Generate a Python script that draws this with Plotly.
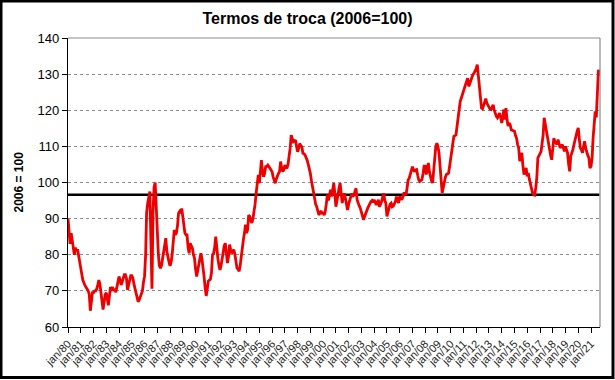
import pandas as pd
import plotly.graph_objects as go

# Monthly terms-of-trade index (2006=100), Jan/1980 onward
tt_1980s = [
    90, 87, 83, 86, 84, 81, 80, 82, 81, 81.5, 80, 78,                      # 1980
    76, 74.5, 73, 72, 71.5, 71, 70.5, 70, 69, 64.5, 67, 69.5,              # 1981
    69.5, 70, 70, 70.5, 71.5, 73, 72, 69.6, 67, 64.8, 67, 69,              # 1982
    69.5, 68, 66, 68.5, 71, 70.5, 71, 70, 70.5, 69.6, 71, 72.5,            # 1983
    74, 73, 71.6, 72.5, 73.5, 74.5, 74.5, 73.5, 70.3, 71.5, 73, 74.2,      # 1984
    74.2, 73.5, 72, 70.6, 69.5, 68, 67, 67.5, 68.5, 68.8, 70, 72.4,        # 1985
    74, 80, 91.6, 94.3, 96, 97.5, 84, 70.6, 92, 98.7, 100, 92,             # 1986
    85.5, 80, 77, 76.3, 77, 79, 81, 83, 84.6, 81, 79, 78,                  # 1987
    76.9, 78, 80, 82.8, 86.9, 85.5, 86, 88, 91.5, 92, 91.5, 92.8,          # 1988
    90, 87.8, 86, 85.5, 85.5, 82, 80.4, 83.2, 82.5, 81.8, 80, 79,          # 1989
]
tt_1990s = [
    76, 74, 75.5, 77.2, 79, 80.4, 79, 76.9, 74, 71, 68.6, 70.5,            # 1990
    72.7, 73, 73.2, 75, 80, 80.4, 82, 85, 81.4, 79, 77, 75.8,              # 1991
    77, 79, 81.4, 82.5, 83.2, 80, 77.7, 79.5, 82.8, 81.5, 80.4, 81,        # 1992
    81.4, 80, 78, 76.3, 76, 75.4, 77, 80, 82.8, 84.2, 86, 88.3,            # 1993
    86, 87, 91, 90.6, 89.5, 88.8, 90, 91.5, 94, 97, 99.5, 102.1,           # 1994
    99.8, 103, 106.2, 103, 101.6, 102.5, 104.4, 104.4, 104.8, 104.4, 104, 103.5,  # 1995
    103, 101.5, 100.5, 99.8, 101, 102.1, 102.5, 103, 105.8, 104, 103, 103.5,      # 1996
    104.8, 104.3, 103.9, 105, 106.7, 109.5, 113.1, 112, 111.3, 111.5, 111.8, 110, # 1997
    108.5, 109.5, 110.8, 110.2, 109.9, 108.1, 108, 107.6, 107, 106.2, 105, 104,   # 1998
    102.5, 100.5, 98.8, 96.5, 95.2, 94, 93.3, 92, 91, 91.5, 92.2, 91.5,          # 1999
]
tt_2000s = [
    91.5, 91, 92, 94, 96.6, 95, 97, 98, 96.1, 97.5, 99.8, 97,              # 2000
    93.3, 95, 97, 98.5, 99.8, 97, 94.3, 96, 97, 95.6, 94, 92.4,            # 2001
    94, 95.2, 96, 97, 96.1, 96.5, 97.5, 98.4, 95.2, 94, 93.5, 92.9,        # 2002
    92, 91, 89.7, 90.5, 91.5, 92, 92.9, 93.5, 94.3, 94.7, 95, 94.5,        # 2003
    95.2, 94.5, 93.8, 94.5, 95.2, 93.3, 94, 94.7, 96, 97, 95, 94.3,        # 2004
    90.6, 92, 93.3, 94, 94.3, 93.3, 93.5, 94, 94.7, 96.1, 95, 94.3,        # 2005
    96.1, 95.5, 95.2, 96, 97, 97, 96.6, 98.5, 100.7, 101.2, 102.5, 103.5,  # 2006
    104.4, 103.5, 103, 103.5, 103.6, 102, 100.7, 100.3, 100.5, 100.8, 102.5, 104.5,  # 2007
    104.5, 102.2, 103.5, 105.4, 103, 101.3, 100.5, 99.9, 104, 108.6, 110, 110.9,     # 2008
    110, 108.2, 105, 102.2, 97.1, 98.5, 100.3, 101.5, 102.2, 102.4, 102.6, 104.5,    # 2009
]
tt_2010s = [
    106.8, 108.5, 110.5, 112.8, 113, 113.2, 115.5, 117.9, 121.1, 122.5, 123.4, 124.5,  # 2010
    125.7, 126.5, 127.1, 128, 128.9, 126.6, 127.5, 128.5, 129.2, 129.9, 130.3, 130.8,  # 2011
    131.5, 132.6, 129.9, 126.2, 123, 120.6, 120.4, 121.5, 122.5, 123.2, 122, 121.5,    # 2012
    120.6, 120.3, 120.2, 120.8, 121.5, 120, 118.8, 118.3, 117.9, 118.5, 119.2, 118,    # 2013
    116.5, 118, 120.2, 117.4, 120.6, 117.5, 115.6, 116.5, 116, 114.6, 114.4, 114.2,    # 2014
    114.2, 113, 112.3, 110.5, 109.6, 105.9, 107, 108.2, 104.5, 102.2, 103.1, 104,      # 2015
    101.7, 102.6, 101, 99.4, 98, 97.1, 96.6, 96.5, 98.5, 101.3, 106.8, 107.7,          # 2016
    108, 108.6, 111, 113.2, 117.9, 116, 114.5, 113.2, 111, 108.6, 107.5, 106.3,        # 2017
    109, 112.3, 111.4, 111, 110.5, 111.9, 111, 109.6, 110, 110.5, 109.5, 108.6,        # 2018
    110, 109, 108.2, 105, 103.1, 107.3, 108, 109.1, 110.5, 111.4, 113, 114.2,          # 2019
]
tt_2020s = [
    115.1, 112, 109.6, 109, 108.2, 110, 111.4, 109.5, 108.2, 107.5, 106.8, 104,        # 2020
    104.5, 106.8, 112.3, 117, 119.7, 118, 124.8, 131.2, 129.4,                         # 2021
]
reference_level = 96.6      # horizontal black reference line
tick_years = list(range(1980, 2022))
tick_labels = ["jan/%02d" % (y % 100) for y in tick_years]

values = tt_1980s + tt_1990s + tt_2000s + tt_2010s + tt_2020s
dates = pd.date_range("1980-01-01", periods=len(values), freq="MS")
tick_dates = [pd.Timestamp(year=y, month=1, day=1) for y in tick_years]

W, H = 615, 380
ML, MR, MT, MB = 68, 15, 38, 53
PW, PH = W - ML - MR, H - MT - MB

fig = go.Figure()
fig.add_trace(go.Scatter(
    x=[dates[0], dates[-1]], y=[reference_level, reference_level],
    mode="lines", line=dict(color="black", width=2.5), hoverinfo="skip",
    showlegend=False))
fig.add_trace(go.Scatter(
    x=dates, y=values, mode="lines",
    line=dict(color="#ee0000", width=2.8), showlegend=False))

def px_x(p):
    return (p - ML) / PW

def px_y(p):
    return (H - MB - p) / PH

shapes = [
    # plot-area top and right borders (gray)
    dict(type="line", xref="paper", yref="paper", x0=0, x1=1, y0=1, y1=1,
         line=dict(color="#8c8c8c", width=1.2)),
    dict(type="line", xref="paper", yref="paper", x0=1, x1=1, y0=0, y1=1,
         line=dict(color="#8c8c8c", width=1.2)),
    # outer black frame of the picture
    dict(type="rect", xref="paper", yref="paper",
         x0=px_x(1), x1=px_x(613), y0=px_y(377.5), y1=px_y(1),
         line=dict(color="black", width=3)),
]

fig.update_layout(
    width=W, height=H,
    margin=dict(l=ML, r=MR, t=MT, b=MB, autoexpand=False),
    paper_bgcolor="white", plot_bgcolor="white",
    font=dict(family="Liberation Sans, Arial, sans-serif", color="black"),
    title=dict(text="<b>Termos de troca (2006=100)</b>", x=0.5, xanchor="center",
               y=1 - 18 / H, yanchor="middle", font=dict(size=16)),
    shapes=shapes,
    annotations=[dict(text="<b>2006 = 100</b>", xref="paper", yref="paper",
                      x=px_x(18), y=0.5, textangle=-90, showarrow=False,
                      xanchor="center", yanchor="middle", font=dict(size=12))],
)
fig.update_xaxes(
    range=[dates[0], dates[-1] + pd.Timedelta(days=14)],
    tickmode="array", tickvals=tick_dates,
    ticktext=tick_labels, tickangle=-45, tickfont=dict(size=11, color="#222222"),
    ticks="outside", ticklen=5, tickcolor="black",
    showgrid=False, showline=True, linecolor="black", linewidth=1.2,
    zeroline=False,
)
fig.update_yaxes(
    range=[60, 140], dtick=10, tickfont=dict(size=13),
    ticks="outside", ticklen=5, tickcolor="black",
    showgrid=True, gridcolor="#8c8c8c", griddash="dot", gridwidth=1,
    showline=True, linecolor="black", linewidth=1.2, zeroline=False,
)

fig.write_html("out.html")
